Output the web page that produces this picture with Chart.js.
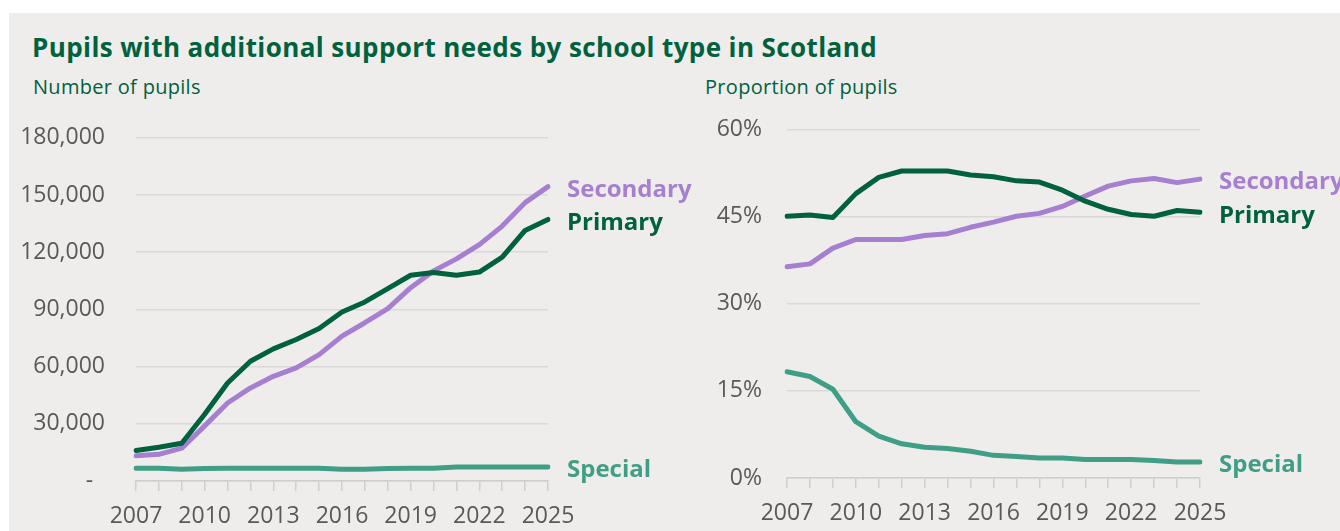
<!DOCTYPE html>
<html>
<head>
<meta charset="utf-8">
<script src="https://cdn.jsdelivr.net/npm/chart.js@4.4.1/dist/chart.umd.min.js"></script>
<style>
  html, body { margin: 0; padding: 0; background: #ffffff; }
  body { width: 1340px; height: 531px; position: relative; overflow: hidden; }
  .panel { position: absolute; left: 9px; top: 13px; right: 0; bottom: 0; background: #eeedeb; }
  .title { position: absolute; left: 32px; top: 34px; font: bold 26px "Open Sans", sans-serif; letter-spacing: 0.4px; color: #00613e; line-height: 1; white-space: nowrap; }
  .sub { position: absolute; top: 77px; font: 20px "Open Sans", sans-serif; letter-spacing: 0.3px; color: #00613e; line-height: 1; white-space: nowrap; }
  canvas { position: absolute; }
</style>
</head>
<body>
<div class="panel"></div>
<div class="title">Pupils with additional support needs by school type in Scotland</div>
<div class="sub" style="left:33px">Number of pupils</div>
<div class="sub" style="left:705px">Proportion of pupils</div>
<canvas id="counts" width="700" height="438" style="left:0;top:93px;width:700px;height:438px"></canvas>
<canvas id="shares" width="640" height="440" style="left:700px;top:91px;width:640px;height:440px"></canvas>
<script>
const years = [2007, 2008, 2009, 2010, 2011, 2012, 2013, 2014, 2015, 2016,
  2017, 2018, 2019, 2020, 2021, 2022, 2023, 2024, 2025]

// Number of pupils with ASN
const primaryCount = [16000, 17700, 19800, 35000, 51400, 62800, 69300, 74200, 80000, 88600,
  93900, 100900, 107900, 109300, 107900, 109600, 117400, 131400, 137200]
const secondaryCount = [13200, 14000, 17200, 28900, 40900, 48800, 54900, 59300, 66300, 76000,
  83000, 90400, 101400, 110200, 116500, 124000, 133700, 146000, 154400]
const specialCount = [6700, 6700, 6100, 6600, 6700, 6700, 6700, 6700, 6700, 6200,
  6200, 6600, 6700, 6700, 7300, 7300, 7300, 7300, 7400]

// Share of pupils with ASN (%)
const primaryShare = [45.1, 45.3, 44.9, 49.0, 51.8, 52.9, 52.9, 52.9, 52.2, 51.9,
  51.2, 51.0, 49.6, 47.7, 46.3, 45.4, 45.1, 46.1, 45.8]
const secondaryShare = [36.4, 36.9, 39.6, 41.1, 41.1, 41.1, 41.8, 42.1, 43.2, 44.1,
  45.1, 45.6, 46.8, 48.6, 50.3, 51.2, 51.6, 50.9, 51.5]
const specialShare = [18.3, 17.5, 15.3, 9.7, 7.2, 5.9, 5.3, 5.1, 4.6, 3.9,
  3.7, 3.45, 3.45, 3.2, 3.2, 3.2, 3.0, 2.75, 2.75]

const seriesNames = ["Primary", "Secondary", "Special"]
const colours = { Primary: "#00613e", Secondary: "#a67fd0", Special: "#3f9e85" }

const tickGrey = "#595959"
const gridGrey = "#d9d9d9"
const axisGrey = "#cfcfcf"

// writes the series name just past the last point of each line
const endLabels = {
  id: "endLabels",
  afterDatasetsDraw(chart) {
    const ctx = chart.ctx
    ctx.save()
    ctx.font = "bold 24px 'Open Sans', sans-serif"
    ctx.textAlign = "left"
    ctx.textBaseline = "middle"
    chart.data.datasets.forEach((ds, i) => {
      const pts = chart.getDatasetMeta(i).data
      const last = pts[pts.length - 1]
      ctx.fillStyle = ds.borderColor
      ctx.fillText(ds.label, last.x + 19, last.y + 3.5)
    })
    ctx.restore()
  },
}

function makeDatasets(values) {
  return seriesNames.map((name, i) => ({
    label: name,
    data: values[i],
    borderColor: colours[name],
    borderWidth: 5,
    pointRadius: 0,
    tension: 0,
    borderCapStyle: "round",
    borderJoinStyle: "round",
    fill: false,
  }))
}

// the y tick padding also sets the top gap, so the canvas top is placed to suit
function makeChart(canvas, values, opts) {
  return new Chart(canvas, {
    type: "line",
    data: { labels: years, datasets: makeDatasets(values) },
    plugins: [endLabels],
    options: {
      responsive: false,
      animation: false,
      events: [],
      layout: { padding: { top: 0, right: opts.right, left: 0, bottom: 0 } },
      plugins: { legend: { display: false }, tooltip: { enabled: false } },
      scales: {
        x: {
          offset: false,
          border: { display: true, color: axisGrey, width: 1.5 },
          grid: { display: true, drawOnChartArea: false, drawTicks: true, tickLength: 10, color: axisGrey, lineWidth: 1.5 },
          ticks: {
            autoSkip: false,
            maxRotation: 0,
            padding: 12,
            color: tickGrey,
            font: { family: "'Open Sans', sans-serif", size: 23 },
            callback: (v, i) => (i % 3 === 0 ? String(years[i]) : ""),
          },
          afterFit: (scale) => { scale.height = opts.xHeight },
        },
        y: {
          min: 0,
          max: opts.max,
          border: { display: false },
          grid: { color: gridGrey, lineWidth: 1.5, drawTicks: false },
          ticks: {
            stepSize: opts.step,
            padding: opts.labelGap,
            color: tickGrey,
            font: { family: "'Open Sans', sans-serif", size: 23 },
            callback: opts.format,
          },
          afterFit: (scale) => { scale.width = opts.yWidth },
        },
      },
    },
  })
}

makeChart(document.getElementById("counts"), [primaryCount, secondaryCount, specialCount], {
  right: 152, xHeight: 50, yWidth: 136, labelGap: 31,
  max: 180000, step: 30000,
  format: (v) => (v === 0 ? "-  " : v.toLocaleString("en-GB")),
})

makeChart(document.getElementById("shares"), [primaryShare, secondaryShare, specialShare], {
  right: 140, xHeight: 53, yWidth: 87, labelGap: 25,
  max: 60, step: 15,
  format: (v) => v + "%",
})
</script>
</body>
</html>
